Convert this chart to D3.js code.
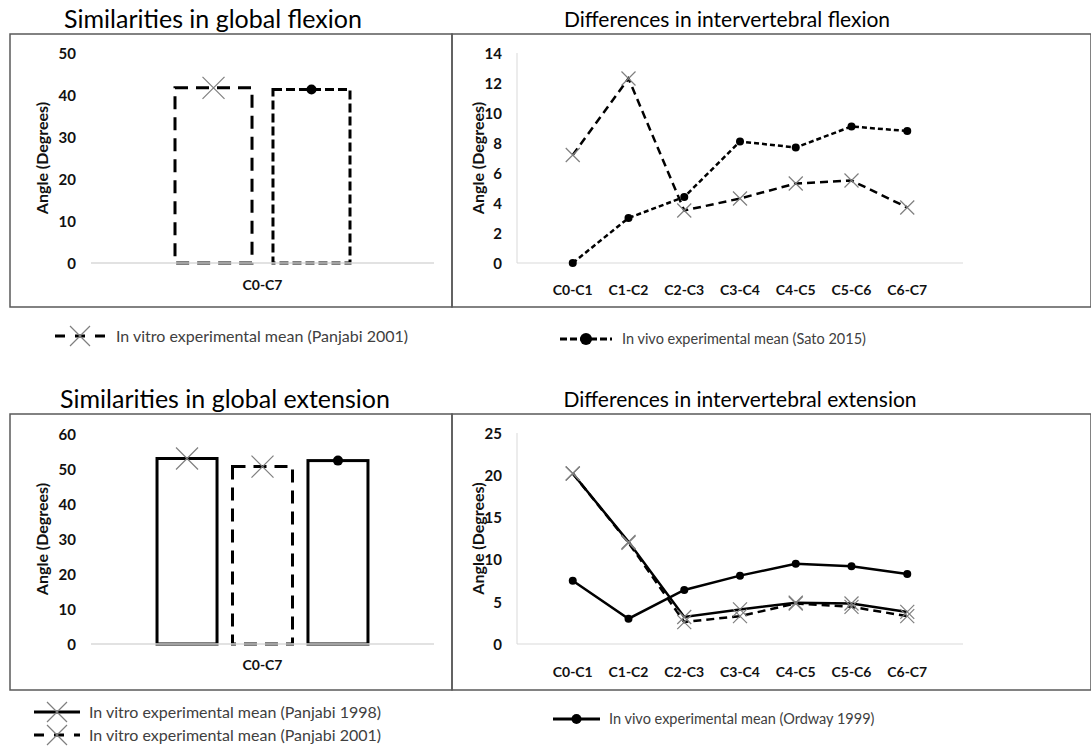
<!DOCTYPE html>
<html>
<head>
<meta charset="utf-8">
<script src="https://cdn.jsdelivr.net/npm/d3@7"></script>
<style>
  html, body { margin: 0; padding: 0; background: #fff; }
  svg { display: block; }
  text { font-family: Lato, "Open Sans", sans-serif; }
</style>
</head>
<body>
<svg id="chart" width="1091" height="746"></svg>
<script>
// ---------------- DATA ----------------
const segments = ["C0-C1", "C1-C2", "C2-C3", "C3-C4", "C4-C5", "C5-C6", "C6-C7"];
const globalCategory = ["C0-C7"];

const flexGlobalSeries = ["Panjabi 2001", "Sato 2015"];
const flexGlobalValues = [41.7, 41.3];

const extGlobalSeries = ["Panjabi 1998", "Panjabi 2001", "Ordway 1999"];
const extGlobalValues = [53.0, 50.7, 52.4];

const flexPanjabi2001 = [7.2, 12.3, 3.5, 4.3, 5.3, 5.5, 3.7];
const flexSato2015 = [0, 3.0, 4.4, 8.1, 7.7, 9.1, 8.8];

const extPanjabi1998 = [20.2, 12.1, 3.2, 4.1, 4.9, 4.8, 3.8];
const extPanjabi2001 = [20.2, 12.0, 2.6, 3.3, 4.8, 4.4, 3.3];
const extOrdway1999 = [7.5, 3.0, 6.4, 8.1, 9.5, 9.2, 8.3];

const flexGlobalTicks = [0, 10, 20, 30, 40, 50];
const extGlobalTicks = [0, 10, 20, 30, 40, 50, 60];
const flexSegTicks = [0, 2, 4, 6, 8, 10, 12, 14];
const extSegTicks = [0, 5, 10, 15, 20, 25];

const titles = {
  tl: "Similarities in global flexion",
  tr: "Differences in intervertebral flexion",
  bl: "Similarities in global extension",
  br: "Differences in intervertebral extension"
};
const yTitle = "Angle (Degrees)";
const legendLabels = {
  p2001: "In vitro experimental mean (Panjabi 2001)",
  p1998: "In vitro experimental mean (Panjabi 1998)",
  sato: "In vivo experimental mean (Sato 2015)",
  ordway: "In vivo experimental mean (Ordway 1999)"
};

// ---------------- STYLES ----------------
const styles = {
  "Panjabi 2001": { dash: "13,8", lineDash: "8,5", legendDash: "10,10", marker: "x" },
  "Panjabi 1998": { dash: null, lineDash: null, legendDash: null, marker: "x" },
  "Sato 2015": { dash: "9,4", lineDash: "5,3", legendDash: "7,3", marker: "dot" },
  "Ordway 1999": { dash: null, lineDash: null, legendDash: null, marker: "dot" }
};
const AXIS_GRAY = "#d9d9d9";
const MARKER_GRAY = "#7f7f7f";

const svg = d3.select("#chart");

function marker(g, type, x, y, size) {
  if (type === "x") {
    const h = size / 2;
    g.append("path")
      .attr("d", `M${x - h},${y - h}L${x + h},${y + h}M${x - h},${y + h}L${x + h},${y - h}`)
      .attr("stroke", MARKER_GRAY).attr("stroke-width", 1.2).attr("fill", "none");
  } else {
    g.append("circle").attr("cx", x).attr("cy", y).attr("r", size / 2).attr("fill", "#000");
  }
}

function panelFrame(x0, y0, x1, y1, title, titleX, titleY, titleSize) {
  svg.append("rect").attr("x", x0).attr("y", y0).attr("width", x1 - x0).attr("height", y1 - y0)
    .attr("fill", "none").attr("stroke", "#595959").attr("stroke-width", 1.5);
  svg.append("text").attr("x", titleX).attr("y", titleY).attr("text-anchor", "middle")
    .attr("font-size", titleSize).attr("fill", "#000").text(title);
}

function yAxisLabels(y, ticks, xRight, labelX) {
  const g = svg.append("g").attr("transform", `translate(${xRight},0)`);
  const ax = d3.axisLeft(y).tickValues(ticks).tickSize(0).tickPadding(0).tickFormat(d3.format("d"));
  g.call(ax);
  g.select(".domain").remove();
  g.selectAll("text").attr("font-size", 15).attr("font-weight", 700)
    .attr("fill", "#111").attr("font-family", "Lato, sans-serif").attr("dy", "0.35em");
  const [r0, r1] = y.range();
  svg.append("text").attr("transform", `translate(${labelX},${(r0 + r1) / 2}) rotate(-90)`)
    .attr("text-anchor", "middle").attr("dy", "0.35em").attr("font-size", 16).attr("font-weight", 700)
    .attr("fill", "#111").text(yTitle);
}

// ---------------- BAR PANEL ----------------
function barPanel(cfg) {
  const y = d3.scaleLinear().domain([cfg.ticks[0], cfg.ticks[cfg.ticks.length - 1]]).range([cfg.y0, cfg.y1]);
  const x = d3.scaleBand().domain(globalCategory).range([cfg.x0, cfg.x1]).paddingInner(0).paddingOuter(cfg.outerPad);
  const xi = d3.scaleBand().domain(cfg.series).range([0, x.bandwidth()]).paddingInner(cfg.innerPad).paddingOuter(0);
  yAxisLabels(y, cfg.ticks, cfg.tickRight, cfg.labelX);

  const g = svg.append("g");
  cfg.series.forEach((s, i) => {
    const st = styles[s];
    const bx = x(globalCategory[0]) + xi(s);
    const by = y(cfg.values[i]);
    g.append("rect").attr("x", bx).attr("y", by).attr("width", xi.bandwidth()).attr("height", y(0) - by)
      .attr("fill", "none").attr("stroke", "#000").attr("stroke-width", 3)
      .attr("stroke-dasharray", st.dash);
  });
  // baseline
  svg.append("line").attr("x1", cfg.x0).attr("x2", cfg.x1).attr("y1", y(0)).attr("y2", y(0))
    .attr("stroke", AXIS_GRAY).attr("stroke-width", 1.5);
  // markers
  cfg.series.forEach((s, i) => {
    const st = styles[s];
    const cx = x(globalCategory[0]) + xi(s) + xi.bandwidth() / 2;
    marker(g, st.marker, cx, y(cfg.values[i]), st.marker === "x" ? 22 : 10);
  });
  // category label
  svg.append("text").attr("x", x(globalCategory[0]) + x.bandwidth() / 2).attr("y", cfg.catY)
    .attr("text-anchor", "middle").attr("dy", "0.35em").attr("font-size", 14).attr("font-weight", 700)
    .attr("fill", "#111").text(globalCategory[0]);
}

// ---------------- LINE PANEL ----------------
function linePanel(cfg) {
  const y = d3.scaleLinear().domain([cfg.ticks[0], cfg.ticks[cfg.ticks.length - 1]]).range([cfg.y0, cfg.y1]);
  const x = d3.scalePoint().domain(segments).range([cfg.x0, cfg.x1]).padding(1);
  yAxisLabels(y, cfg.ticks, cfg.tickRight, cfg.labelX);
  svg.append("line").attr("x1", cfg.x0).attr("x2", cfg.x0).attr("y1", cfg.y0).attr("y2", cfg.y1)
    .attr("stroke", AXIS_GRAY).attr("stroke-width", 1);
  svg.append("line").attr("x1", cfg.x0).attr("x2", cfg.x1).attr("y1", cfg.y0).attr("y2", cfg.y0)
    .attr("stroke", AXIS_GRAY).attr("stroke-width", 1);

  const g = svg.append("g");
  const line = d3.line().x((d, i) => x(segments[i])).y(d => y(d));
  cfg.series.forEach(s => {
    g.append("path").datum(s.values).attr("d", line).attr("fill", "none")
      .attr("stroke", "#000").attr("stroke-width", 2.5)
      .attr("stroke-dasharray", styles[s.name].lineDash);
  });
  cfg.series.forEach(s => {
    const st = styles[s.name];
    s.values.forEach((v, i) => marker(g, st.marker, x(segments[i]), y(v), st.marker === "x" ? 14 : 8));
  });
  const lg = svg.append("g");
  segments.forEach(c => {
    lg.append("text").attr("x", x(c)).attr("y", cfg.catY).attr("text-anchor", "middle").attr("dy", "0.35em")
      .attr("font-size", 14).attr("font-weight", 700).attr("fill", "#111").text(c);
  });
}

// ---------------- LEGEND ----------------
function legendItem(x, y, seriesName, label, opts) {
  const st = styles[seriesName];
  const g = svg.append("g");
  g.append("line").attr("x1", x).attr("x2", x + opts.len).attr("y1", y).attr("y2", y)
    .attr("stroke", "#000").attr("stroke-width", 3).attr("stroke-dasharray", st.legendDash);
  marker(g, st.marker, x + opts.len / 2, y, opts.size);
  g.append("text").attr("x", x + opts.len + opts.gap).attr("y", y).attr("dy", "0.35em")
    .attr("font-size", opts.font).attr("fill", "#404040").text(label);
}

// ---------------- DRAW ----------------
panelFrame(10, 34, 452, 307, titles.tl, 213, 28, 25);
panelFrame(452, 34, 1091, 307, titles.tr, 727, 27, 21);
panelFrame(10, 414, 452, 690, titles.bl, 225, 408, 25);
panelFrame(452, 414, 1091, 690, titles.br, 740, 407, 21);

barPanel({ series: flexGlobalSeries, values: flexGlobalValues, ticks: flexGlobalTicks,
  y0: 263, y1: 53, x0: 91, x1: 434, outerPad: 0.48, innerPad: 0.214,
  tickRight: 76, labelX: 42, catY: 285 });

barPanel({ series: extGlobalSeries, values: extGlobalValues, ticks: extGlobalTicks,
  y0: 644, y1: 434, x0: 91, x1: 434, outerPad: 0.313, innerPad: 0.205,
  tickRight: 76, labelX: 42, catY: 665 });

linePanel({ series: [{ name: "Panjabi 2001", values: flexPanjabi2001 }, { name: "Sato 2015", values: flexSato2015 }],
  ticks: flexSegTicks, y0: 263, y1: 53, x0: 517, x1: 963, tickRight: 502, labelX: 478, catY: 290 });

linePanel({ series: [{ name: "Panjabi 1998", values: extPanjabi1998 }, { name: "Panjabi 2001", values: extPanjabi2001 }, { name: "Ordway 1999", values: extOrdway1999 }],
  ticks: extSegTicks, y0: 644, y1: 433, x0: 517, x1: 963, tickRight: 502, labelX: 478, catY: 672 });

legendItem(55, 336, "Panjabi 2001", legendLabels.p2001, { len: 50, gap: 11, size: 20, font: 16 });
legendItem(560, 339, "Sato 2015", legendLabels.sato, { len: 52, gap: 10, size: 12, font: 14.5 });
legendItem(34, 712, "Panjabi 1998", legendLabels.p1998, { len: 46, gap: 9, size: 20, font: 16 });
legendItem(34, 735, "Panjabi 2001", legendLabels.p2001, { len: 46, gap: 9, size: 20, font: 16 });
legendItem(553, 719, "Ordway 1999", legendLabels.ordway, { len: 47, gap: 9, size: 10, font: 14.5 });
</script>
</body>
</html>
